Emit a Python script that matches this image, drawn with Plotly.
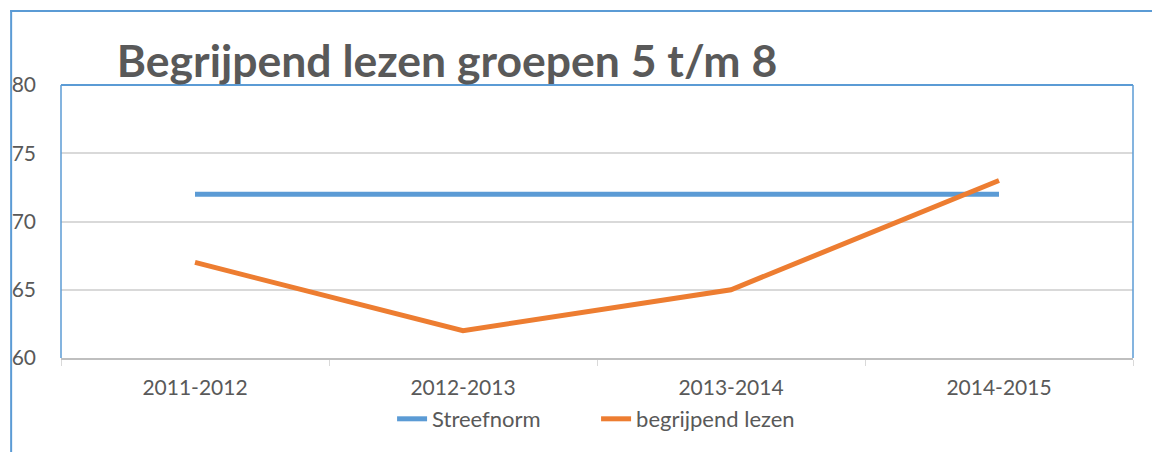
import plotly.graph_objects as go

categories = ["2011-2012", "2012-2013", "2013-2014", "2014-2015"]
streefnorm = [72, 72, 72, 72]
begrijpend = [67, 62, 65, 73]
y_ticks = [60, 65, 70, 75, 80]

BLUE = "#5B9BD5"
ORANGE = "#ED7D31"
GREY_TEXT = "#595959"
FONT = "Lato"

fig = go.Figure()
fig.add_trace(go.Scatter(x=categories, y=streefnorm, mode="lines", name="Streefnorm",
                         line=dict(color=BLUE, width=5)))
fig.add_trace(go.Scatter(x=categories, y=begrijpend, mode="lines", name="begrijpend lezen",
                         line=dict(color=ORANGE, width=5)))

L, R, T, B = 58, 19, 85, 94
W, H = 1152, 452
pw, ph = W - L - R, H - T - B

def px_x(p):
    return (p - L) / pw

def px_y(p):
    return (H - B - p) / ph

shapes = [
    # outer chart border (left and top)
    dict(type="line", xref="paper", yref="paper", x0=px_x(8), x1=px_x(8), y0=px_y(10), y1=px_y(470),
         line=dict(color=BLUE, width=2)),
    dict(type="line", xref="paper", yref="paper", x0=px_x(7), x1=px_x(1170), y0=px_y(11), y1=px_y(11),
         line=dict(color=BLUE, width=2)),
    # plot area border (left, top, right)
    dict(type="line", xref="paper", yref="paper", x0=0, x1=0, y0=0, y1=1, line=dict(color=BLUE, width=1.5)),
    dict(type="line", xref="paper", yref="paper", x0=0, x1=1, y0=1, y1=1, line=dict(color=BLUE, width=2)),
    dict(type="line", xref="paper", yref="paper", x0=1, x1=1, y0=0, y1=1, line=dict(color=BLUE, width=1.5)),
]

fig.update_layout(
    width=W, height=H,
    margin=dict(l=L, r=R, t=T, b=B),
    paper_bgcolor="white", plot_bgcolor="white",
    font=dict(family=FONT, color=GREY_TEXT, size=20),
    title=dict(text="<b>Begrijpend lezen groepen 5 t/m 8</b>",
               font=dict(family=FONT, size=44.5, color=GREY_TEXT),
               x=447 / W, xanchor="center",
               y=1 - 61 / H, yanchor="middle"),
    showlegend=True,
    legend=dict(orientation="h", x=px_x(390), xanchor="left", y=px_y(419), yanchor="middle",
                entrywidth=159, font=dict(size=22, color=GREY_TEXT)),
    shapes=shapes,
    xaxis=dict(type="category", showgrid=False, showline=True, linecolor="#BFBFBF", linewidth=2,
               ticks="outside", tickson="boundaries", ticklen=6, tickcolor="#D9D9D9",
               ticklabelstandoff=10, range=[-0.5, 3.5], tickfont=dict(size=21)),
    yaxis=dict(range=[60, 80], tickvals=y_ticks, showgrid=True, gridcolor="#D9D9D9", gridwidth=2,
               zeroline=False, showline=False, ticks="", ticklabelstandoff=24,
               tickfont=dict(size=21)),
)

fig.write_html("out.html")
